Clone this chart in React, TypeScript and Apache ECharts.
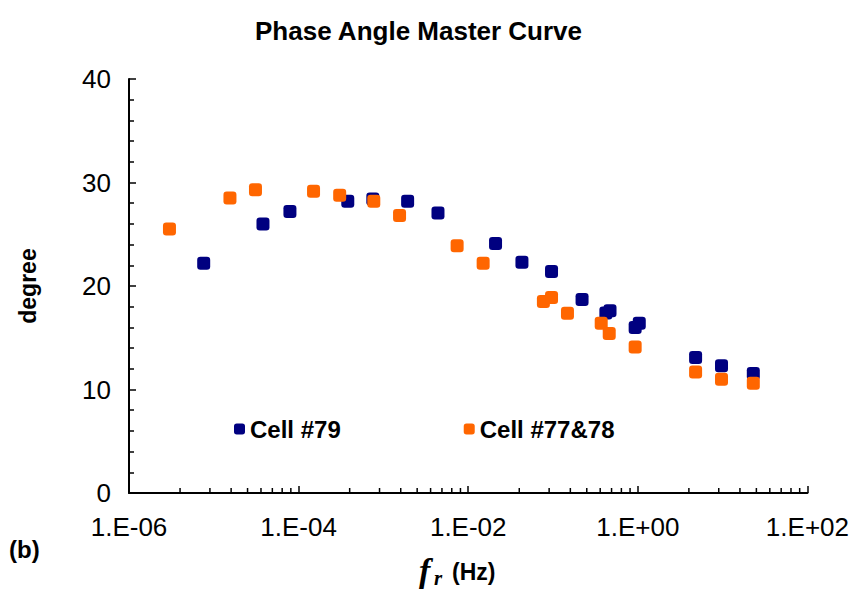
import React, { useEffect, useRef } from "react";
import * as echarts from "echarts";

const cell79Freq = [7.6e-6, 3.8e-5, 7.9e-5, 3.8e-4, 7.5e-4, 1.93e-3, 4.4e-3, 2.1e-2, 4.3e-2, 9.6e-2, 0.22, 0.42, 0.47, 0.93, 1.04, 4.8, 9.7, 23];
const cell79Deg = [22.2, 26.0, 27.2, 28.2, 28.4, 28.2, 27.05, 24.1, 22.3, 21.4, 18.7, 17.4, 17.6, 16.0, 16.4, 13.1, 12.3, 11.55];

const cell7778Freq = [3.0e-6, 1.55e-5, 3.1e-5, 1.5e-4, 3.05e-4, 7.7e-4, 1.55e-3, 7.4e-3, 1.5e-2, 7.7e-2, 9.6e-2, 0.148, 0.37, 0.46, 0.93, 4.8, 9.7, 23];
const cell7778Deg = [25.5, 28.5, 29.3, 29.15, 28.76, 28.2, 26.8, 23.9, 22.2, 18.5, 18.9, 17.36, 16.4, 15.4, 14.1, 11.7, 11.0, 10.6];

const seriesNames = ["Cell #79", "Cell #77&78"];
const seriesColors = ["#000080", "#FF6600"];

const xMin = 1e-6;
const xMax = 1e2;
const yMin = 0;
const yMax = 40;
const yInterval = 10;

// Excel-style minor ticks: log pattern spread across each 2-decade major interval
const majorExps = [-6, -4, -2, 0];
const minorMultipliers = [2, 3, 4, 5, 6, 7, 8, 9];
const xMinorTicks: number[] = [];
majorExps.forEach((e) => minorMultipliers.forEach((k) => xMinorTicks.push(Math.pow(10, e) * k * k)));

const fmtExp = (v: number) => {
  const e = Math.round(Math.log10(v));
  return "1.E" + (e < 0 ? "-" : "+") + String(Math.abs(e)).padStart(2, "0");
};

export default function App() {
  const ref = useRef<HTMLDivElement>(null);
  useEffect(() => {
    if (!ref.current) return;
    const chart = echarts.init(ref.current, null, { renderer: "svg" });
    const font = "Liberation Sans, Arial, sans-serif";
    const serif = "'Liberation Serif', 'Times New Roman', serif";
    chart.setOption({
      animation: false,
      backgroundColor: "#fff",
      textStyle: { fontFamily: font },
      title: {
        text: "Phase Angle Master Curve",
        left: 255,
        top: 18,
        padding: 0,
        textStyle: { fontSize: 26, fontWeight: "bold", color: "#000", fontFamily: font },
      },
      grid: { left: 129, right: 44, top: 79, bottom: 98 },
      legend: {
        data: seriesNames.map((n) => ({ name: n, icon: "roundRect" })),
        left: 234,
        top: 417,
        padding: 0,
        itemWidth: 11,
        itemHeight: 11,
        itemGap: 123,
        textStyle: { fontSize: 24, fontWeight: "bold", color: "#000", fontFamily: font },
      },
      xAxis: {
        type: "log",
        logBase: 100,
        min: xMin,
        max: xMax,
        interval: 1,
        axisLine: { lineStyle: { color: "#000", width: 2 } },
        axisTick: { show: true, inside: true, length: 7, lineStyle: { color: "#000", width: 1.5 } },
        splitLine: { show: false },
        axisLabel: { formatter: fmtExp, fontSize: 26, color: "#000", margin: 21, fontFamily: font },
      },
      yAxis: {
        type: "value",
        min: yMin,
        max: yMax,
        interval: yInterval,
        axisLine: { show: true, lineStyle: { color: "#000", width: 2 } },
        axisTick: { show: true, inside: true, length: 7, lineStyle: { color: "#000", width: 1.5 } },
        minorTick: { show: true, splitNumber: 5, length: 5, lineStyle: { color: "#000", width: 1.5 } },
        splitLine: { show: false },
        axisLabel: { fontSize: 26, color: "#000", margin: 18, fontFamily: font },
        name: "degree",
        nameLocation: "middle",
        nameGap: 90,
        nameTextStyle: { fontSize: 23, fontWeight: "bold", color: "#000", fontFamily: font },
      },
      series: [
        {
          name: seriesNames[0],
          type: "scatter",
          symbol: "roundRect",
          symbolSize: 13,
          itemStyle: { color: seriesColors[0], opacity: 1 },
          data: cell79Freq.map((f, i) => [f, cell79Deg[i]]),
        },
        {
          name: seriesNames[1],
          type: "scatter",
          symbol: "roundRect",
          symbolSize: 13,
          itemStyle: { color: seriesColors[1], opacity: 1 },
          data: cell7778Freq.map((f, i) => [f, cell7778Deg[i]]),
        },
        {
          name: "minorTicks",
          type: "custom",
          silent: true,
          clip: false,
          z: 5,
          data: xMinorTicks.map((v) => [v, yMin]),
          renderItem: (params: any, api: any) => {
            const p = api.coord([api.value(0), yMin]);
            return {
              type: "line",
              shape: { x1: p[0], y1: p[1], x2: p[0], y2: p[1] - 5 },
              style: { stroke: "#000", lineWidth: 1.5 },
            };
          },
        },
      ],
      graphic: [
        { type: "text", left: 9, top: 537, style: { text: "(b)", font: `bold 24px ${font}`, fill: "#000" } },
        { type: "text", left: 419, top: 553, style: { text: "f", font: `italic bold 34px ${serif}`, fill: "#000" } },
        { type: "text", left: 434, top: 567, style: { text: "r", font: `italic bold 21px ${serif}`, fill: "#000" } },
        { type: "text", left: 452, top: 560, style: { text: "(Hz)", font: `bold 23px ${font}`, fill: "#000" } },
      ],
    });
    return () => chart.dispose();
  }, []);
  return <div ref={ref} style={{ width: 852, height: 591, position: "absolute", left: 0, top: 0 }} />;
}
